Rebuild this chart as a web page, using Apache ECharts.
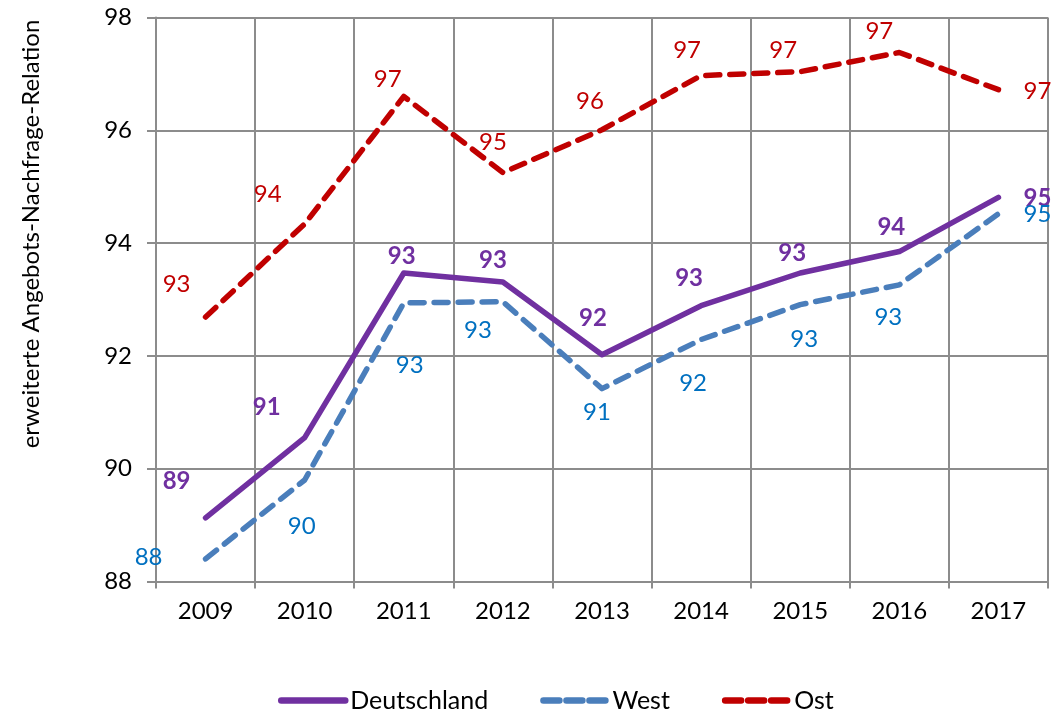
<!DOCTYPE html>
<html>
<head>
<meta charset="utf-8">
<script src="https://cdn.jsdelivr.net/npm/echarts@6/dist/echarts.min.js"></script>
<style>html,body{margin:0;padding:0;background:#fff}#c{width:1051px;height:714px}</style>
</head>
<body>
<div id="c"></div>
<script>
const years = ['2009','2010','2011','2012','2013','2014','2015','2016','2017'];
const deutschland = [89.13, 90.55, 93.47, 93.31, 92.02, 92.89, 93.47, 93.85, 94.81];
const west = [88.40, 89.80, 92.94, 92.96, 91.42, 92.29, 92.91, 93.26, 94.52];
const ost = [92.69, 94.34, 96.60, 95.25, 96.01, 96.97, 97.04, 97.38, 96.72];
const yTicks = { min: 88, max: 98, interval: 2 };
const yTitle = 'erweiterte Angebots-Nachfrage-Relation';

// label offsets (style only)
const offD = [[-29,-37],[-38,-30],[-2,-17],[-10,-22],[-9,-37],[-12,-27],[-8,-20],[-8,-24],[39,1]];
const offW = [[-57,-2],[-3,46],[6,62],[-25,29],[-5,24],[-8,44],[4,35],[-11,32],[39,0]];
const offO = [[-29,-33],[-37,-30],[-16,-17],[-10,-30],[-12,-28],[-14,-25],[-17,-21],[-20,-21],[39,2]];

const FONT = 'Lato';
function mk(vals, offs) {
  return vals.map((v, i) => ({ value: v, label: { offset: offs[i] } }));
}
function series(name, vals, offs, color, lblColor, dashed, bold) {
  return {
    name, type: 'line', data: mk(vals, offs),
    symbol: 'circle', symbolSize: 1, showSymbol: true,
    itemStyle: { color: 'rgba(0,0,0,0)' },
    lineStyle: { color, width: 5.5, type: dashed ? [14, 10] : 'solid', cap: 'round', join: 'round' },
    label: {
      show: true, position: 'inside', color: lblColor,
      fontFamily: FONT, fontSize: 24, fontWeight: bold ? 'bold' : 'normal',
      align: 'center', verticalAlign: 'middle',
      formatter: p => Math.round(p.value)
    },
    emphasis: { disabled: true },
    animation: false, z: 3
  };
}
const chart = echarts.init(document.getElementById('c'), null, { renderer: 'canvas' });
chart.setOption({
  animation: false,
  grid: { left: 156, right: 3, top: 17.5, bottom: 132.5, containLabel: false },
  xAxis: {
    type: 'category', data: years, boundaryGap: true,
    axisLine: { show: true, lineStyle: { color: '#8c8c8c', width: 2 } },
    axisTick: { show: true, length: 7, lineStyle: { color: '#8c8c8c', width: 2 } },
    splitLine: { show: true, lineStyle: { color: '#8c8c8c', width: 2 } },
    axisLabel: { color: '#000', fontFamily: FONT, fontSize: 24, margin: 18 }
  },
  yAxis: {
    type: 'value', min: yTicks.min, max: yTicks.max, interval: yTicks.interval,
    axisLine: { show: true, lineStyle: { color: '#8c8c8c', width: 2 } },
    axisTick: { show: true, length: 9, lineStyle: { color: '#8c8c8c', width: 2 } },
    splitLine: { show: true, lineStyle: { color: '#8c8c8c', width: 2 } },
    axisLabel: { color: '#000', fontFamily: FONT, fontSize: 24, margin: 24 }
  },
  legend: {
    left: 273, top: 683, itemWidth: 64, itemHeight: 14, itemGap: 52,
    textStyle: { fontFamily: FONT, fontSize: 25, color: '#000' },
    data: [
      { name: 'Deutschland', lineStyle: { width: 6.5, cap: 'round' } },
      { name: 'West', lineStyle: { width: 6.5, type: [16, 7], cap: 'round' } },
      { name: 'Ost', lineStyle: { width: 6.5, type: [16, 7], cap: 'round' } }
    ]
  },
  graphic: [{
    type: 'text', x: 31, y: 234, rotation: Math.PI / 2,
    style: { text: yTitle, fontFamily: FONT, fontSize: 24, fill: '#000', align: 'center', verticalAlign: 'middle' }
  }],
  series: [
    series('Deutschland', deutschland, offD, '#7030A0', '#7030A0', false, true),
    series('West', west, offW, '#4A7EBB', '#0070C0', true, false),
    series('Ost', ost, offO, '#C00000', '#C00000', true, false)
  ]
});
</script>
</body>
</html>
